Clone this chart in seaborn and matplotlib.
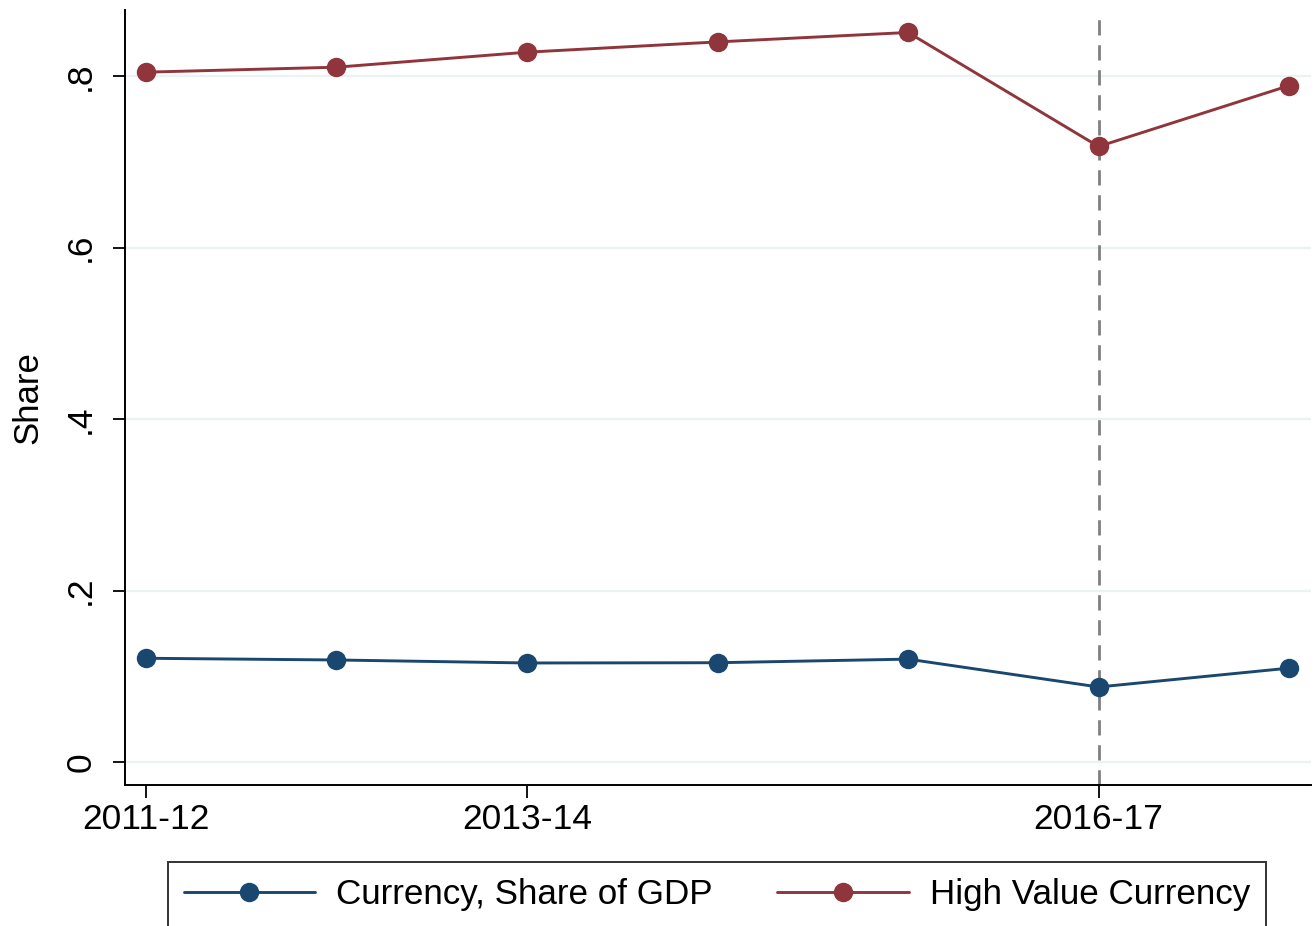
import matplotlib
matplotlib.use("Agg")
import matplotlib.pyplot as plt
import seaborn as sns
import pandas as pd

years = ["2011-12", "2012-13", "2013-14", "2014-15", "2015-16", "2016-17", "2017-18"]
currency_gdp = [0.121, 0.119, 0.1155, 0.1158, 0.120, 0.0875, 0.1095]
high_value = [0.8047, 0.8105, 0.828, 0.840, 0.851, 0.718, 0.789]
series_names = ["Currency, Share of GDP", "High Value Currency"]
tick_years = ["2011-12", "2013-14", "2016-17"]
event_year = "2016-17"

df = pd.DataFrame({
    "idx": list(range(len(years))) * 2,
    "value": currency_gdp + high_value,
    "series": [series_names[0]] * len(years) + [series_names[1]] * len(years),
})

sns.set_theme(style="white")
plt.rcParams["font.family"] = ["Liberation Sans", "DejaVu Sans"]
plt.rcParams["text.color"] = "black"
plt.rcParams["axes.labelcolor"] = "black"
plt.rcParams["xtick.color"] = "black"
plt.rcParams["ytick.color"] = "black"

fig = plt.figure(figsize=(13.16, 9.26), dpi=100)
ax = fig.add_axes([0.095, 0.1523, 0.9012, 0.8367])

palette = {series_names[0]: "#1A476F", series_names[1]: "#90353B"}
for y in [0, 0.2, 0.4, 0.6, 0.8]:
    ax.axhline(y, color="#EAF2F3", lw=1.6, zorder=0)

sns.lineplot(data=df, x="idx", y="value", hue="series", palette=palette,
             marker="o", markersize=14, markeredgewidth=0, linewidth=2.1,
             ax=ax, zorder=3)

ax.axvline(years.index(event_year), color="#808080", lw=2.0,
           linestyle=(0, (5.5, 3.5)), zorder=2)

ax.set_xlim(-0.110, 6.115)
ax.set_ylim(-0.0268, 0.877)
ax.set_yticks([0, 0.2, 0.4, 0.6, 0.8])
ax.set_yticklabels(["0", ".2", ".4", ".6", ".8"], rotation=90, va="center")
ax.set_xticks([years.index(t) for t in tick_years])
ax.set_xticklabels(tick_years)
ax.tick_params(axis="both", labelsize=25.5, length=9, width=1.3, color="black",
               labelcolor="black", direction="out", bottom=True, left=True)
ax.tick_params(axis="y", pad=11)
ax.tick_params(axis="x", pad=4)
ax.set_xlabel("")
ax.set_ylabel("Share", fontsize=25, labelpad=14.5, color="black")

for s in ["top", "right"]:
    ax.spines[s].set_visible(False)
for s in ["left", "bottom"]:
    ax.spines[s].set_color("black")
    ax.spines[s].set_linewidth(1.4)

handles, labels = ax.get_legend_handles_labels()
if ax.get_legend():
    ax.get_legend().remove()
leg = fig.legend(handles, labels, loc="upper left",
                 bbox_to_anchor=(168 / 1316, 1 - 862 / 926),
                 ncol=2, fontsize=25.2, frameon=True, fancybox=False,
                 edgecolor="black", handlelength=3.75, handletextpad=0.6,
                 columnspacing=1.85, borderpad=0.45, borderaxespad=0)
leg.get_frame().set_linewidth(1.4)
for t in leg.get_texts():
    t.set_color("black")
for h in leg.legend_handles:
    h.set_markersize(14)
    h.set_linewidth(2.1)

fig.savefig("out.png", dpi=100, facecolor="white")
